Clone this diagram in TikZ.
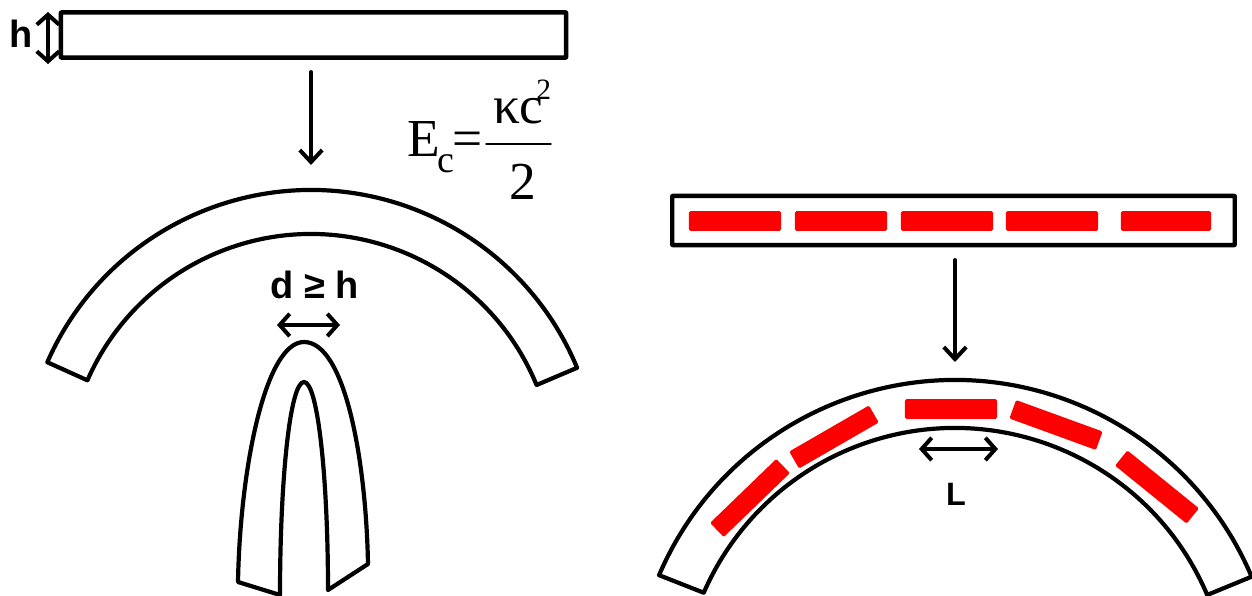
\documentclass[tikz,border=0pt]{standalone}
\usepackage{fontspec}
\setmainfont{Liberation Sans}
\newfontfamily\eqfont{Liberation Serif}
\usetikzlibrary{arrows.meta,calc}
\definecolor{plasmared}{RGB}{255,0,0}
\begin{document}
\begin{tikzpicture}[x=0.025cm, y=-0.025cm, line cap=round, line join=round,
 >={Straight Barb[length=3mm,width=5.6mm,line width=1mm]},
 every node/.style={inner sep=0pt,outer sep=0pt},
 bar/.style={draw=black, line width=1.1mm, rounded corners=0.3pt, inner sep=0pt},
 sheet/.style={draw=black, line width=1.05mm},
 arrowline/.style={draw=black, line width=0.95mm, ->},
 dimline/.style={draw=black, line width=0.95mm, <->, >={Straight Barb[length=2.5mm,width=5.6mm,line width=1mm]}},
 seg/.style={fill=plasmared, rounded corners=1pt, minimum width=23mm, minimum height=4.9mm},
 lab/.style={font=\fontsize{27}{27}\selectfont\bfseries},
 eq/.style={font=\eqfont\fontsize{38}{38}\selectfont}]
\useasboundingbox (0,0) rectangle (1252,596);
\coordinate (cl) at (311,478);
\coordinate (cr) at (955,702);
\node[bar, minimum width=126.3mm, minimum height=11.3mm] (flat) at (313.5,35) {};
\node[lab] (hlab) at (21,34) {h};
\coordinate (htop) at (48,12);
\coordinate (hbot) at (48,64);
\draw[dimline] (htop)--(hbot);
\coordinate (astart) at (311,72);
\coordinate (aend) at (311,165);
\draw[arrowline] (astart)--(aend);
\node[eq, anchor=base west] (ec) at (407,157) {E\kern-0.6mm\raisebox{-3.75mm}{\fontsize{27}{27}\selectfont c}\kern-0.3mm=};
\node[eq, anchor=base west] (kc) at (493,124) {κc\kern-1.8mm\raisebox{6mm}{\fontsize{21}{21}\selectfont 2}};
\node[eq] (two) at (523,182) {2};
\coordinate (fl) at (486,144);
\coordinate (fr) at (551,144);
\draw[line width=0.35mm] (fl)--(fr);
\draw[sheet] ($(cl)+(-156.3:288)$) arc[start angle=-156.3,end angle=-22.5,radius=288]
 -- ($(cl)+(-22.4:244)$) arc[start angle=-22.4,end angle=-156.4,radius=244] -- cycle;
\node[lab] (dlab) at (315,285) {d ≥ h};
\coordinate (dl) at (277,325);
\coordinate (dr) at (340,325);
\draw[dimline] (dl)--(dr);
\draw[sheet] (238,582) .. controls (240,470) and (265,342) .. (304,342)
 .. controls (345,342) and (366,460) .. (368,564) -- (328,590)
 .. controls (328,480) and (318,382) .. (304,382)
 .. controls (290,382) and (280,480) .. (280,595) -- cycle;
\node[bar, minimum width=140.6mm, minimum height=12.3mm] (dopedflat) at (953.5,220.5) {};
\node[seg] (f1) at (735,221) {};
\node[seg] (f2) at (841,221) {};
\node[seg] (f3) at (947,221) {};
\node[seg] (f4) at (1052,221) {};
\node[seg, minimum width=22.5mm] (f5) at (1166,221) {};
\coordinate (bstart) at (955,260);
\coordinate (bend) at (955,362);
\draw[arrowline] (bstart)--(bend);
\draw[sheet] ($(cr)+(-156.8:322)$) arc[start angle=-156.8,end angle=-22.9,radius=322]
 -- ($(cr)+(-23:274)$) arc[start angle=-23,end angle=-156.5,radius=274] -- cycle;
\node[seg] (b1) at (951,409) {};
\node[seg, rotate=-20] (b2) at (1056,425) {};
\node[seg, rotate=-39] (b3) at (1157,487) {};
\node[seg, rotate=30] (b4) at (834,437) {};
\node[seg, rotate=44] (b5) at (750,498) {};
\coordinate (ll) at (919,449);
\coordinate (lr) at (998,449);
\draw[dimline] (ll)--(lr);
\node[lab, font=\fontsize{23}{23}\selectfont\bfseries] (llab) at (956,494) {L};
\end{tikzpicture}
\end{document}
